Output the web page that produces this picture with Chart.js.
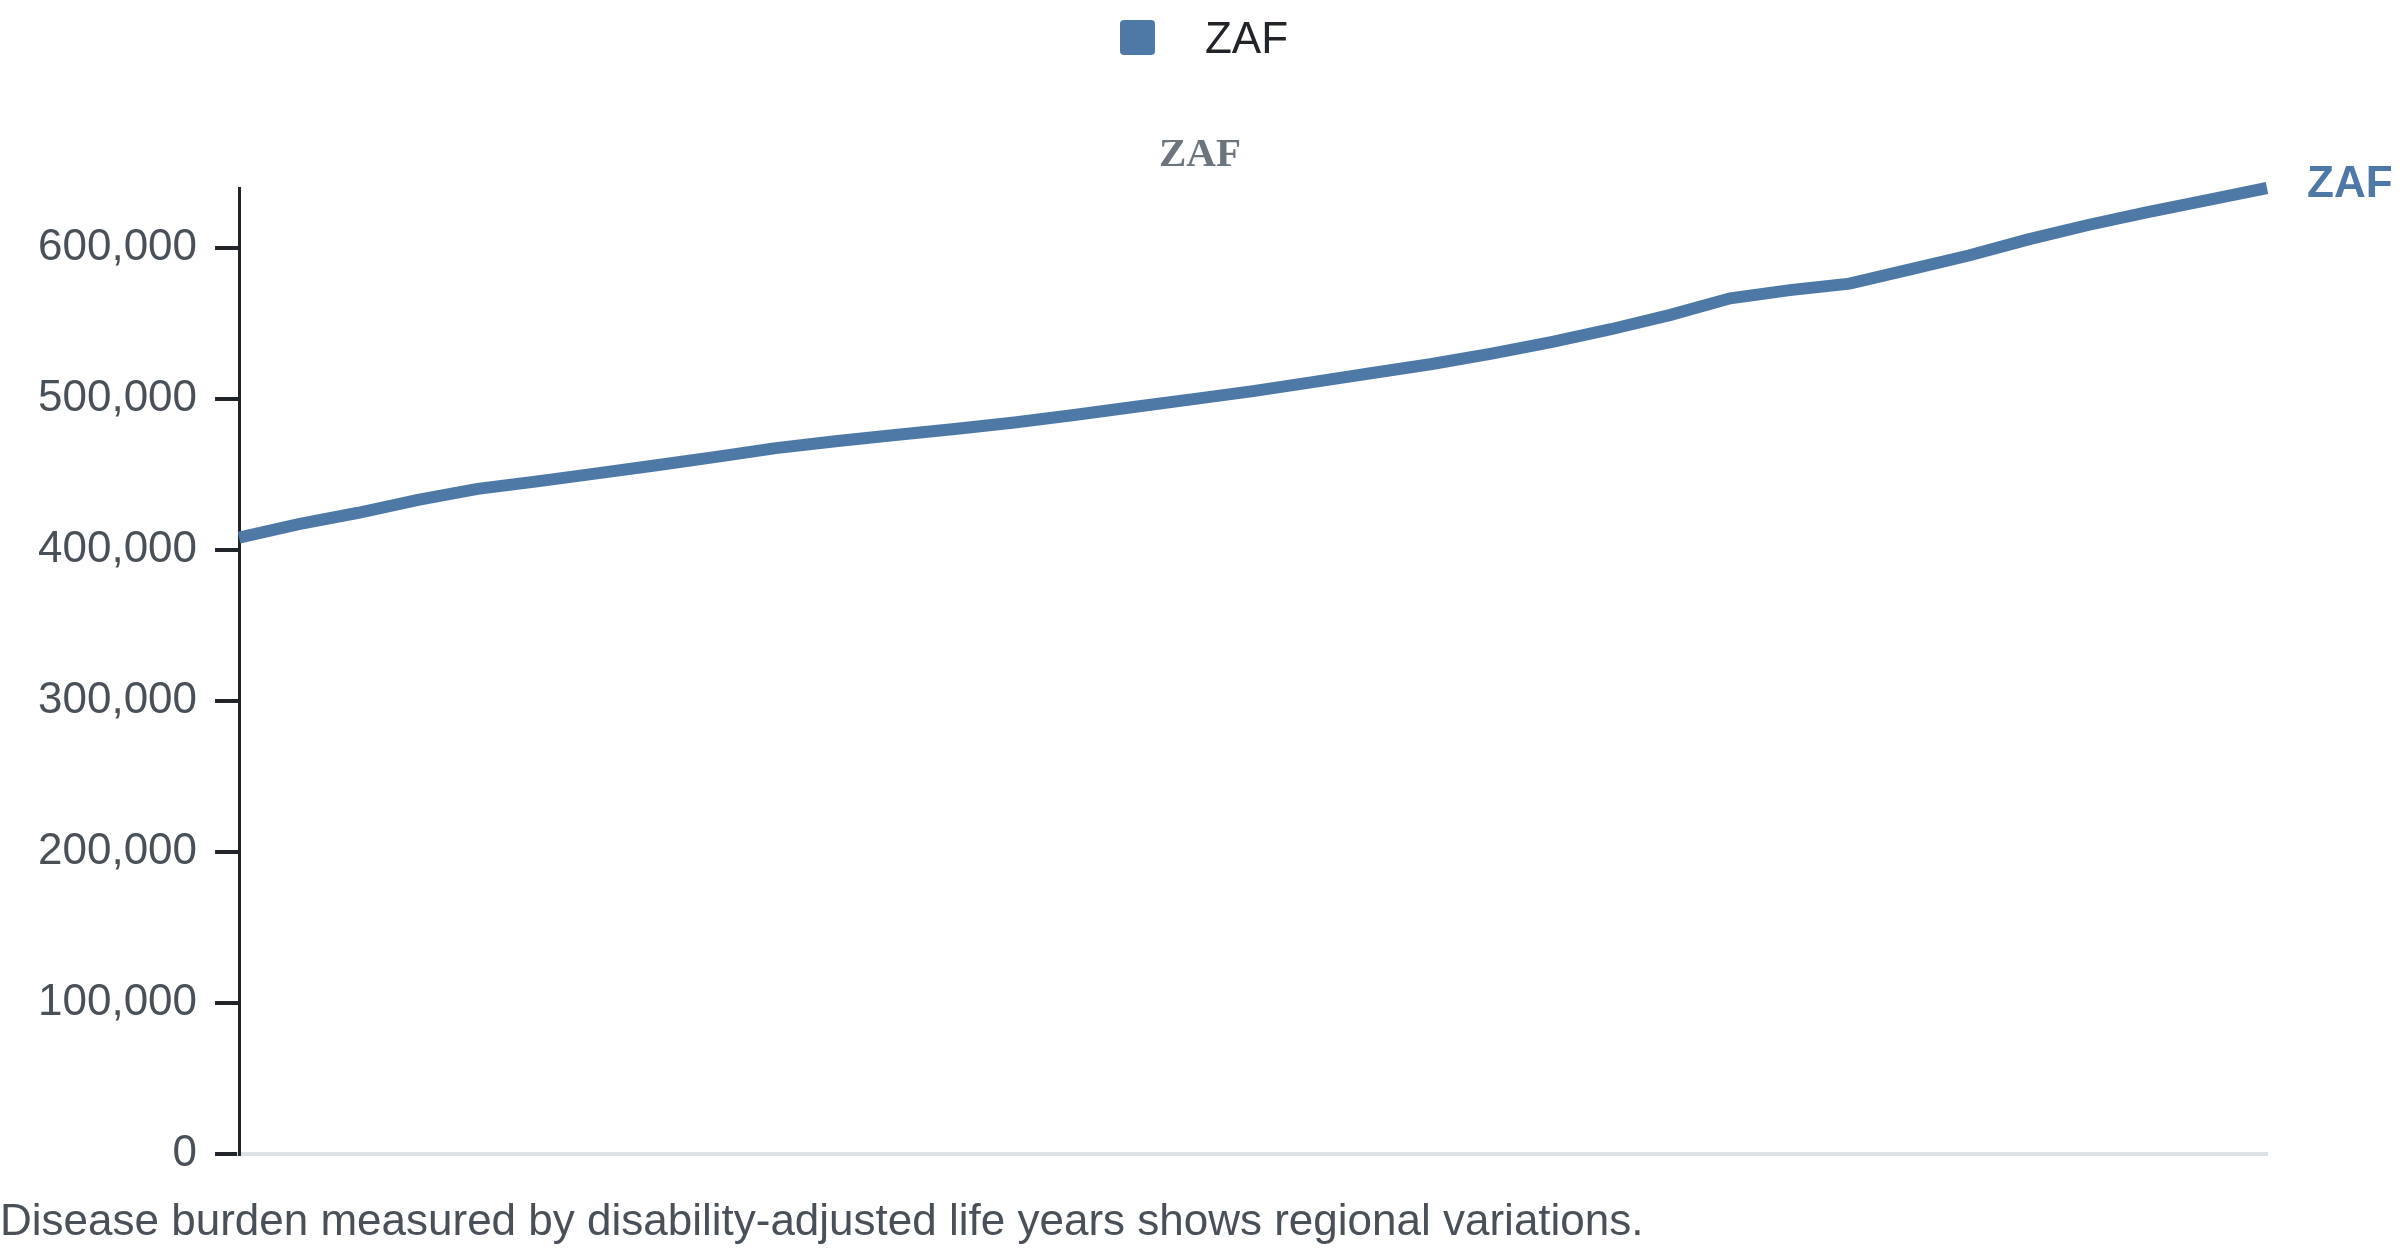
<!DOCTYPE html>
<html>
<head>
<meta charset="utf-8">
<script src="https://cdn.jsdelivr.net/npm/chart.js@4"></script>
<style>
  body { margin: 0; background: #fff; }
  #wrap { position: relative; width: 2400px; height: 1256px; overflow: hidden; }
  #legend {
    position: absolute; top: 0; left: 4px; width: 2400px; height: 75px;
    display: flex; justify-content: center; align-items: center; gap: 50px;
    font-family: "Liberation Sans", Arial, sans-serif; font-size: 44px; color: #212529;
  }
  #legend .box { width: 35px; height: 35px; border-radius: 4px; background: #4e79a7; }
  #legend .txt { line-height: 44px; }
  #caption {
    position: absolute; left: 0; top: 1198px;
    font-family: "Liberation Sans", Arial, sans-serif; font-size: 44px; line-height: 44px;
    color: #495057; white-space: nowrap;
  }
</style>
</head>
<body>
<div id="wrap">
  <canvas id="chart"></canvas>
  <div id="legend"></div>
  <div id="caption"></div>
</div>
<script>
// --- Datos ---
const seriesName = 'ZAF';
const lineColor = '#4e79a7';
const captionText = 'Disease burden measured by disability-adjusted life years shows regional variations.';

const years = ['1990', '1991', '1992', '1993', '1994', '1995', '1996', '1997', '1998', '1999',
               '2000', '2001', '2002', '2003', '2004', '2005', '2006', '2007', '2008', '2009',
               '2010', '2011', '2012', '2013', '2014', '2015', '2016', '2017', '2018', '2019',
               '2020', '2021', '2022', '2023', '2024'];

const zafValues = [408000, 417000, 424500, 433000, 440300, 445300, 450600, 456000, 461500, 467300,
                   471800, 476000, 480000, 484200, 489200, 494500, 499700, 505000, 511000, 517000,
                   523000, 529900, 537500, 546000, 555500, 566500, 571900, 576200, 585500, 594800,
                   605500, 615000, 623500, 631500, 639500];

const yTickValues = [0, 100000, 200000, 300000, 400000, 500000, 600000];

// --- Leyenda y texto ---
document.getElementById('legend').innerHTML =
  `<span class="box"></span><span class="txt">${seriesName}</span>`;
document.getElementById('caption').textContent = captionText;

// --- Titulo centrado en el canvas + etiqueta al final de la linea ---
const labelsPlugin = {
  id: 'labelsPlugin',
  afterDraw(chart) {
    const ctx = chart.ctx;
    ctx.save();
    ctx.font = 'bold 41px "Liberation Serif", "Times New Roman", serif';
    ctx.fillStyle = '#6c757d';
    ctx.textAlign = 'center';
    ctx.textBaseline = 'middle';
    ctx.fillText(seriesName, chart.width / 2, 155);
    ctx.restore();
  },
  afterDatasetsDraw(chart) {
    const meta = chart.getDatasetMeta(0);
    const last = meta.data[meta.data.length - 1];
    if (!last) return;
    const ctx = chart.ctx;
    ctx.save();
    ctx.font = 'bold 44px "Liberation Sans", Arial, sans-serif';
    ctx.fillStyle = lineColor;
    ctx.textAlign = 'left';
    ctx.textBaseline = 'middle';
    ctx.fillText(chart.data.datasets[0].label, last.x + 40, last.y - 3);
    ctx.restore();
  }
};

const ctx = document.getElementById('chart').getContext('2d');
new Chart(ctx, {
  type: 'line',
  data: {
    labels: years,
    datasets: [{
      label: seriesName,
      data: zafValues,
      borderColor: lineColor,
      backgroundColor: lineColor,
      borderWidth: 12,
      pointRadius: 0,
      tension: 0,
      fill: false,
      clip: 20
    }]
  },
  options: {
    responsive: true,
    maintainAspectRatio: false,
    animation: false,
    layout: { padding: { top: 188, left: 20, right: 133, bottom: 94 } },
    plugins: {
      legend: { display: false },
      tooltip: { enabled: false },
      title: { display: false }
    },
    scales: {
      x: {
        grid: { display: false },
        ticks: { display: false },
        border: { display: true, color: '#dee2e6', width: 4 }
      },
      y: {
        min: 0,
        max: Math.max(...zafValues),
        afterBuildTicks: axis => { axis.ticks = yTickValues.map(v => ({ value: v })); },
        grid: { drawOnChartArea: false, drawTicks: true, tickLength: 24, color: '#212529', lineWidth: 4 },
        border: { display: true, color: '#212529', width: 3 },
        ticks: {
          padding: 18,
          color: '#495057',
          font: { family: '"Liberation Sans", Arial, sans-serif', size: 44 },
          callback: v => v.toLocaleString('en-US')
        }
      }
    }
  },
  plugins: [labelsPlugin]
});
</script>
</body>
</html>
